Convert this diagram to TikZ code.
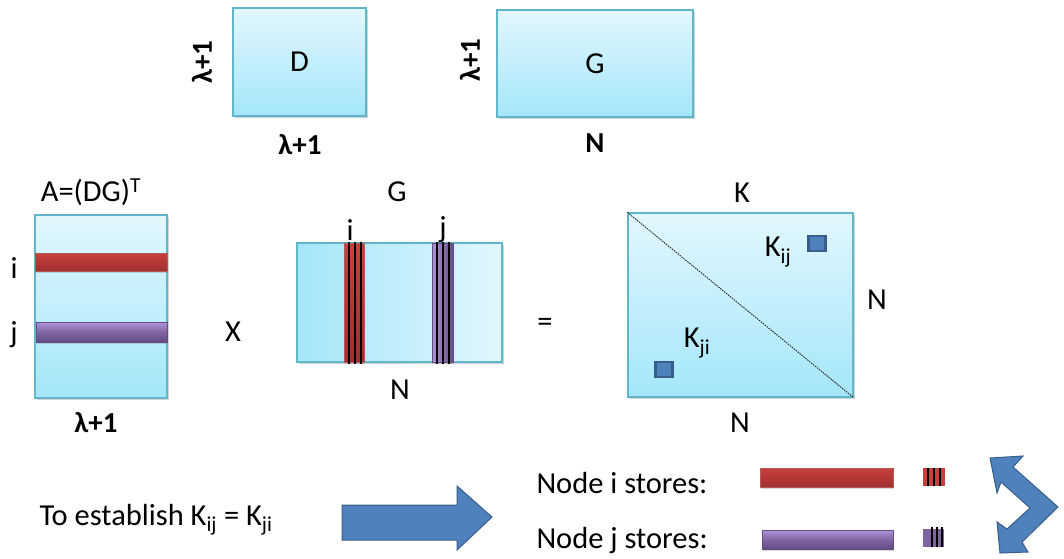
\documentclass[tikz,border=0pt]{standalone}
\usepackage{fontspec}
\setmainfont{Carlito}
\usetikzlibrary{positioning,shadows}
\definecolor{boxtop}{RGB}{226,247,253}
\definecolor{boxbot}{RGB}{164,230,250}
\definecolor{boxline}{RGB}{96,182,202}
\definecolor{rowred}{RGB}{200,64,60}
\definecolor{rowreddk}{RGB}{160,48,46}
\definecolor{rowpurple}{RGB}{128,100,162}
\definecolor{rowpurplelt}{RGB}{178,150,220}
\definecolor{rowpurpledk}{RGB}{100,76,132}
\definecolor{arrblue}{RGB}{79,129,189}
\definecolor{arrblueline}{RGB}{56,93,138}

\begin{document}
\begin{tikzpicture}[x=1pt,y=-1pt,
  every node/.style={font=\fontsize{30.5}{34}\selectfont},
  dimlabel/.style={font=\fontsize{29}{33}\selectfont\bfseries},
  matbox/.style={draw=boxline,line width=1.2pt,top color=boxtop,bottom color=boxbot,
    inner sep=0pt,drop shadow={shadow xshift=1.5pt,shadow yshift=-2pt,opacity=.35,fill=gray}},
  redbar/.style={draw=rowreddk!80,top color=rowred,bottom color=rowreddk,
    drop shadow={shadow xshift=1pt,shadow yshift=-1.5pt,opacity=.3,fill=gray}},
  purplebar/.style={draw=rowpurpledk,top color=rowpurplelt,bottom color=rowpurpledk,middle color=rowpurple,
    drop shadow={shadow xshift=1pt,shadow yshift=-1.5pt,opacity=.3,fill=gray}},
  blockarrow/.style={fill=arrblue,draw=arrblueline,line width=1pt,line join=miter},
  kcell/.style={draw=arrblueline,fill=arrblue,line width=2.2pt,minimum width=17pt,minimum height=15pt,inner sep=0pt}]
\useasboundingbox (0,0) rectangle (1064,558);

% D and G
\node[matbox,minimum width=133pt,minimum height=108pt] (D) at (299.5,62) {D};
\node[dimlabel,rotate=90] (Drows) at (202,62) {λ+1};
\node[dimlabel] (Dcols) at (300,145) {λ+1};
\node[matbox,minimum width=196pt,minimum height=107pt] (Gtop) at (595,63.5) {G};
\node[dimlabel,rotate=90] (Grows) at (470,60) {λ+1};
\node[dimlabel] (Gcols) at (595,143) {N};

% A = (DG)^T
\node[matbox,minimum width=132pt,minimum height=183pt] (A) at (101,306.5) {};
\node (Alabel) at (91,192) {A=(DG)\textsuperscript{T}};
\shade[redbar] (35,253) rectangle (167,271);
\shade[purplebar] (36,322) rectangle (167,342);
\node (Ai) at (14,268) {i};
\node (Aj) at (14,335) {j};
\node[dimlabel] (Acols) at (96,423) {λ+1};
\node (times) at (233,332) {X};

% G with columns i and j
\node[matbox,left color=boxbot,right color=boxtop,minimum width=205pt,minimum height=119pt] (G) at (399.5,302.5) {};
\node (Glabel) at (397,192) {G};
\shade[redbar,drop shadow={opacity=0}] (344,243) rectangle (364,362);
\shade[purplebar,left color=rowpurplelt,right color=rowpurpledk,drop shadow={opacity=0}] (432,243) rectangle (453,362);
\foreach \x in {349,355,361,437,443,449}
  \draw[line width=2.4pt] (\x,242) -- (\x,364);
\node (Gi) at (350,230) {i};
\node (Gj) at (443,230) {j};
\node (Gcolsb) at (400,390) {N};
\node (equals) at (545,325) {=};

% K
\node[matbox,minimum width=225pt,minimum height=184pt] (K) at (740.5,305) {};
\draw[gray!30!black,dash pattern=on 1.5pt off 1pt,line width=.9pt] (K.north west) -- (K.south east);
\node (Klabel) at (742,193) {K};
\node (Krows) at (877,300) {N};
\node (Kcols) at (740,423) {N};
\node[kcell] (Kij) at (817,243.5) {};
\node[kcell] (Kji) at (664,369.5) {};
\node (Kijlabel) at (778,252) {K\textsubscript{ij}};
\node (Kjilabel) at (697,343) {K\textsubscript{ji}};

% bottom row
\node[anchor=west] (establish) at (36,520) {To establish K\textsubscript{ij} = K\textsubscript{ji}};
\filldraw[blockarrow] (342,505) -- (457,505) -- (457,486) -- (492,517) -- (457,550) -- (457,540) -- (342,540) -- cycle;
\node[anchor=west] (nodei) at (533,483) {Node i stores:};
\node[anchor=west] (nodej) at (533,541) {Node j stores:};
\shade[redbar] (760,468) rectangle (893,487);
\shade[purplebar] (762,530) rectangle (893,549);
\fill[rowred] (923,468) rectangle (945,486);
\foreach \x in {928,934,940}
  \draw[line width=2.6pt] (\x,468) -- (\x,486);
\fill[rowpurple] (923,529) rectangle (944,547);
\foreach \x in {932,937,942}
  \draw[line width=2.6pt] (\x,527) -- (\x,547);
\filldraw[blockarrow] (990,458) -- (1023,456) -- (1013,467) -- (1058,507) -- (1022,542)
  -- (1028,552) -- (1000,553) -- (997,522) -- (1007,529) -- (1030,508) -- (1001,482)
  -- (997,493) -- cycle;
\end{tikzpicture}
\end{document}
